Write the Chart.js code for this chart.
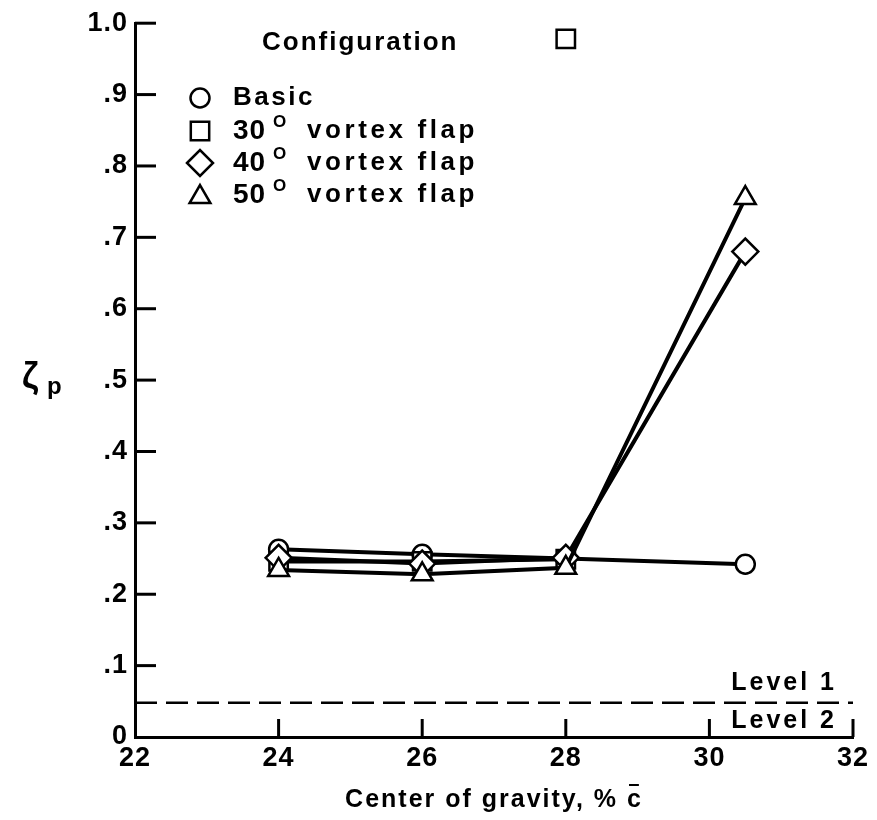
<!DOCTYPE html>
<html><head><meta charset="utf-8">
<script src="https://cdn.jsdelivr.net/npm/chart.js@4/dist/chart.umd.min.js"></script>
<style>html,body{margin:0;padding:0;background:#fff}#wrap{width:877px;height:820px;position:relative}</style>
</head><body><div id="wrap"><canvas id="c" width="877" height="820"></canvas></div>
<script>
// ---- data ----
const cgPercent = [24, 26, 28, 30.5];
const basic = [0.263, 0.256, 0.250, 0.242];
const flap30 = [0.246, 0.246, 0.249];
const flap30IsolatedCg = [28];
const flap30IsolatedValue = [0.978];
const flap40 = [0.251, 0.243, 0.251, 0.680];
const flap50 = [0.234, 0.228, 0.237, 0.755];
const levelBoundaryCg = [22, 32];
const levelBoundaryValue = [0.048, 0.048];
const xTickValues = [22, 24, 26, 28, 30, 32];
const yTickValues = [0, 0.1, 0.2, 0.3, 0.4, 0.5, 0.6, 0.7, 0.8, 0.9, 1.0];
const yTickLabels = ['0', '.1', '.2', '.3', '.4', '.5', '.6', '.7', '.8', '.9', '1.0'];
const legendNames = ['Basic', '30', '40', '50'];

const FONT = '"Liberation Sans", Arial, Helvetica, sans-serif';
const pts = (xs, ys) => ys.map((v, i) => ({x: xs[i], y: v}));

const ds = (label, data, style, radius, extra) => Object.assign({
  label, data, showLine: true, borderColor: '#000', backgroundColor: '#fff',
  borderWidth: 4, pointStyle: style, pointRadius: radius, pointBorderWidth: 2.5,
  pointBackgroundColor: '#fff', pointBorderColor: '#000', pointHoverRadius: radius
}, extra || {});

const decor = {
  id: 'decor',
  beforeDraw(chart) { chart.ctx.letterSpacing = '1px'; },
  afterDraw(chart) {
    const ctx = chart.ctx, xs = chart.scales.x, ys = chart.scales.y;
    const area = chart.chartArea;
    ctx.save();
    ctx.strokeStyle = '#000'; ctx.fillStyle = '#000'; ctx.lineWidth = 3;
    // inside tick marks
    xTickValues.slice(1).forEach(v => {
      const px = xs.getPixelForValue(v);
      ctx.beginPath(); ctx.moveTo(px, area.bottom); ctx.lineTo(px, area.bottom - 18); ctx.stroke();
    });
    yTickValues.slice(1).forEach(v => {
      const py = ys.getPixelForValue(v);
      ctx.beginPath(); ctx.moveTo(area.left, py); ctx.lineTo(area.left + 21, py); ctx.stroke();
    });
    // level labels
    ctx.letterSpacing = '3px';
    ctx.font = 'bold 25px ' + FONT;
    ctx.textBaseline = 'middle'; ctx.textAlign = 'right';
    const yb = ys.getPixelForValue(levelBoundaryValue[0]);
    ctx.fillText('Level 1', xs.getPixelForValue(32) - 16, yb - 20);
    ctx.fillText('Level 2', xs.getPixelForValue(32) - 16, yb + 18);
    // y title
    ctx.letterSpacing = '0px';
    ctx.textAlign = 'left';
    ctx.font = 'bold 36px ' + FONT;
    ctx.fillText('\u03B6', 22, 378);
    ctx.font = 'bold 24px ' + FONT;
    ctx.fillText('p', 47, 387);
    // x title
    ctx.letterSpacing = '2px';
    ctx.font = 'bold 25px ' + FONT;
    ctx.textAlign = 'left';
    const cx = (area.left + area.right) / 2;
    const main = 'Center of gravity, % ';
    const wMain = ctx.measureText(main).width;
    const wc = ctx.measureText('c').width;
    const x0 = cx - (wMain + wc) / 2;
    ctx.fillText(main, x0, 800);
    ctx.fillText('c', x0 + wMain, 800);
    ctx.lineWidth = 2;
    ctx.beginPath(); ctx.moveTo(x0 + wMain + 2, 785); ctx.lineTo(x0 + wMain + wc - 4, 785); ctx.stroke();
    // legend
    ctx.font = 'bold 26px ' + FONT;
    ctx.fillText('Configuration', 262, 43);
    const rows = [98, 131, 163, 195];
    const styles = [['circle', 9.5], ['rect', 13], ['rectRot', 13], ['triangle', 12]];
    rows.forEach((ry, i) => {
      ctx.save();
      ctx.lineWidth = 2.5; ctx.fillStyle = '#fff'; ctx.strokeStyle = '#000';
      Chart.helpers.drawPoint(ctx, {pointStyle: styles[i][0], radius: styles[i][1], borderWidth: 2.5, rotation: 0}, 200, ry + (i === 3 ? 2 : 0));
      ctx.restore();
      ctx.fillStyle = '#000';
      ctx.font = 'bold 26px ' + FONT;
      ctx.letterSpacing = '2.5px';
      if (i === 0) {
        ctx.fillText(legendNames[0], 233, ry);
      } else {
        ctx.font = 'bold 28px ' + FONT;
        ctx.letterSpacing = '1px';
        ctx.fillText(legendNames[i], 233, ry);
        ctx.font = 'bold 17px ' + FONT;
        ctx.letterSpacing = '0px';
        ctx.fillText('O', 273, ry - 9);
        ctx.font = 'bold 26px ' + FONT;
        ctx.letterSpacing = '3.6px';
        ctx.fillText('vortex flap', 307, ry);
      }
    });
    ctx.restore();
  }
};

new Chart(document.getElementById('c'), {
  type: 'scatter',
  data: {
    datasets: [
      ds('Level boundary', pts(levelBoundaryCg, levelBoundaryValue), 'circle', 0, {borderWidth: 2.5, borderDash: [22, 9]}),
      ds('50\u00B0 vortex flap', pts(cgPercent, flap50), 'triangle', 12),
      ds('40\u00B0 vortex flap', pts(cgPercent, flap40), 'rectRot', 13),
      ds('30\u00B0 vortex flap', pts(cgPercent, flap30), 'rect', 13),
      ds('30\u00B0 vortex flap (isolated)', pts(flap30IsolatedCg, flap30IsolatedValue), 'rect', 13, {showLine: false}),
      ds('Basic', pts(cgPercent, basic), 'circle', 9.5)
    ]
  },
  options: {
    responsive: false, animation: false, devicePixelRatio: 1,
    layout: {padding: {top: 22, right: 24, left: 0, bottom: 0}},
    plugins: {legend: {display: false}, tooltip: {enabled: false}},
    scales: {
      x: {
        type: 'linear', min: 22, max: 32,
        afterFit: s => { s.height = 83; },
        afterBuildTicks: s => { s.ticks = xTickValues.map(v => ({value: v})); },
        grid: {display: false, drawTicks: false},
        border: {display: true, color: '#000', width: 3},
        ticks: {color: '#000', font: {family: FONT, size: 27, weight: 'bold'}, padding: 5, maxRotation: 0}
      },
      y: {
        type: 'linear', min: 0, max: 1,
        afterFit: s => { s.width = 135; },
        afterBuildTicks: s => { s.ticks = yTickValues.map(v => ({value: v})); },
        grid: {display: false, drawTicks: false},
        border: {display: true, color: '#000', width: 3},
        ticks: {color: '#000', font: {family: FONT, size: 27, weight: 'bold'}, padding: 7,
          callback: (v) => { const i = yTickValues.findIndex(t => Math.abs(t - v) < 1e-6); return i >= 0 ? yTickLabels[i] : ''; }}
      }
    }
  },
  plugins: [decor]
});
</script></body></html>
